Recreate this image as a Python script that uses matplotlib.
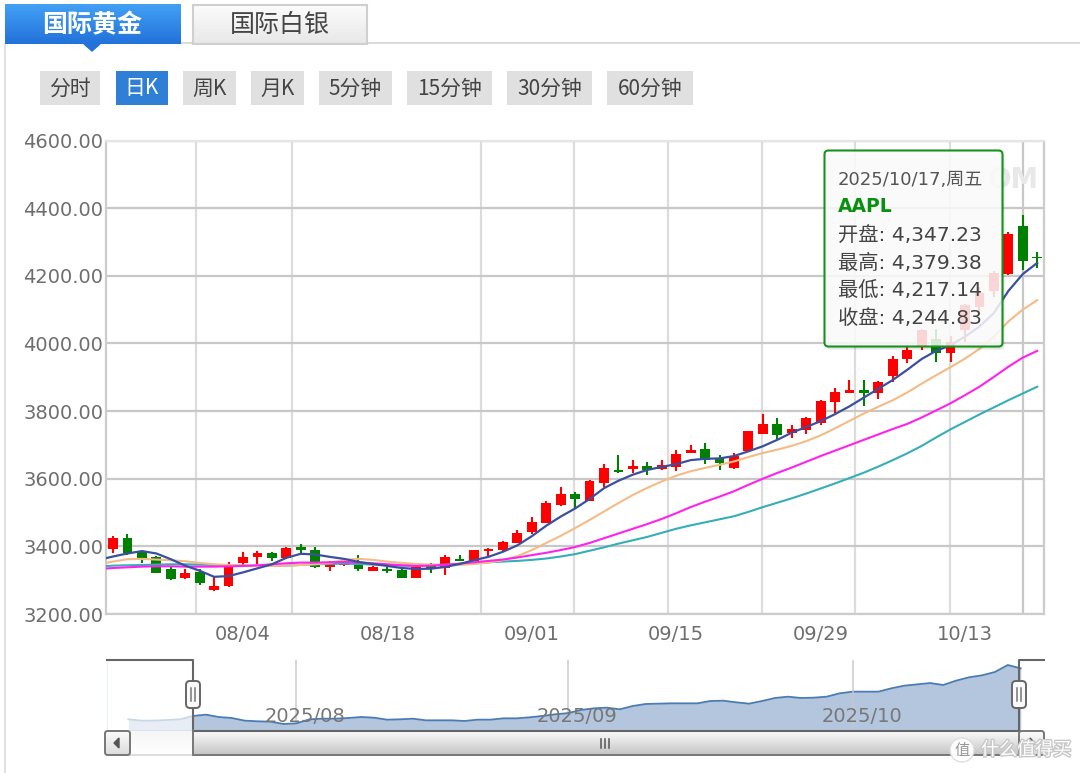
import numpy as np
import matplotlib
matplotlib.use("Agg")
import matplotlib.pyplot as plt
import matplotlib.patheffects as pe
from matplotlib.patches import FancyBboxPatch, Rectangle, Polygon, Circle

W, H = 1080, 773
CJK = ["Noto Sans CJK SC", "DejaVu Sans"]
MIX = ["DejaVu Sans", "Noto Sans CJK SC"]

# daily candles, index 0 = 07/22, 63 = 10/17
OPEN = [3391, 3424, 3384, 3368, 3332, 3306, 3325, 3271, 3284, 3350, 3370, 3379, 3365, 3399, 3389, 3340,
        3346, 3348, 3328, 3332, 3330, 3307, 3345, 3335, 3362, 3358, 3385, 3389, 3411, 3442, 3470, 3521, 3555,
        3535, 3586, 3627, 3628, 3637, 3629, 3635, 3676, 3689, 3660, 3633, 3682, 3733, 3763, 3734, 3744,
        3765, 3827, 3854, 3862, 3854, 3903, 3955, 3990, 4012, 3972, 4039, 4108, 4155, 4205, 4347.23, 4256]
HIGH = [3431, 3437, 3389, 3372, 3340, 3332, 3332, 3308, 3355, 3384, 3387, 3384, 3399, 3406, 3397, 3358,
        3365, 3373, 3342, 3340, 3340, 3342, 3350, 3373, 3373, 3390, 3394, 3417, 3448, 3488, 3534, 3576, 3562,
        3596, 3643, 3669, 3655, 3648, 3655, 3685, 3700, 3707, 3669, 3675, 3742, 3790, 3779, 3758, 3783,
        3832, 3867, 3893, 3893, 3889, 3962, 3990, 4044, 4044, 4021, 4118, 4167, 4214, 4330, 4379.38, 4271]
LOW = [3379, 3374, 3350, 3320, 3301, 3304, 3287, 3269, 3279, 3343, 3348, 3358, 3362, 3379, 3336, 3328,
       3342, 3328, 3326, 3320, 3306, 3306, 3320, 3316, 3357, 3357, 3372, 3387, 3409, 3436, 3468, 3519, 3512,
       3535, 3576, 3618, 3618, 3612, 3627, 3624, 3675, 3643, 3627, 3629, 3680, 3732, 3716, 3721, 3732,
       3758, 3793, 3852, 3816, 3836, 3886, 3941, 3982, 3946, 3946, 4005, 4088, 4138, 4202, 4217.14, 4224]
CLOSE = [3424, 3379, 3362, 3322, 3303, 3322, 3293, 3284, 3345, 3368, 3379, 3365, 3394, 3389, 3338, 3350,
         3358, 3332, 3338, 3327, 3307, 3340, 3335, 3368, 3358, 3388, 3393, 3414, 3440, 3471, 3529, 3555, 3541,
         3592, 3633, 3620, 3638, 3627, 3642, 3673, 3686, 3655, 3645, 3668, 3742, 3763, 3730, 3748, 3779,
         3830, 3857, 3862, 3852, 3887, 3955, 3982, 4039, 3972, 4005, 4113, 4148, 4207, 4325, 4244.83, 4252]

# moving averages, index -1 .. 64
MA_X = list(range(-1, 65))
MA5 = [3360, 3370, 3379, 3386, 3379, 3362, 3343, 3328, 3310, 3312, 3323, 3335, 3347, 3366, 3378, 3376, 3369,
       3363, 3354, 3348, 3342, 3336, 3333, 3334, 3339, 3348, 3359, 3369, 3384, 3403, 3430, 3461, 3488, 3512,
       3540, 3572, 3594, 3612, 3626, 3635, 3643, 3655, 3659, 3660, 3667, 3681, 3696, 3715, 3736, 3753, 3770,
       3791, 3814, 3840, 3866, 3892, 3922, 3954, 3978, 3995, 4020, 4050, 4090, 4155, 4205, 4238]
MA10 = [3347, 3355, 3362, 3363, 3361, 3359, 3356, 3351, 3347, 3345, 3343, 3342, 3342, 3343, 3345, 3347, 3351,
        3360, 3363, 3360, 3355, 3351, 3348, 3346, 3344, 3345, 3348, 3352, 3359, 3371, 3389, 3410, 3431, 3454,
        3478, 3503, 3528, 3552, 3573, 3592, 3609, 3622, 3632, 3641, 3651, 3664, 3676, 3686, 3697, 3711, 3728,
        3749, 3771, 3793, 3813, 3832, 3855, 3881, 3906, 3930, 3955, 3984, 4020, 4065, 4100, 4128]
MA20 = [3333, 3336, 3338, 3340, 3341, 3341, 3340, 3340, 3340, 3341, 3342, 3344, 3347, 3350, 3352, 3352, 3353,
        3354, 3352, 3350, 3347, 3344, 3342, 3343, 3345, 3349, 3353, 3357, 3361, 3367, 3374, 3381, 3389, 3398,
        3410, 3424, 3438, 3452, 3466, 3481, 3498, 3516, 3532, 3547, 3563, 3582, 3600, 3617, 3633, 3650, 3667,
        3683, 3699, 3715, 3731, 3747, 3762, 3781, 3802, 3823, 3847, 3872, 3901, 3931, 3958, 3978]
MA30 = [3340, 3343, 3344, 3345, 3346, 3347, 3347, 3346, 3345, 3344, 3343, 3342, 3342, 3343, 3345, 3347, 3348,
        3349, 3348, 3346, 3345, 3343, 3343, 3345, 3346, 3348, 3350, 3353, 3355, 3357, 3360, 3364, 3370, 3377,
        3387, 3397, 3408, 3418, 3428, 3440, 3452, 3462, 3471, 3480, 3489, 3502, 3516, 3529, 3542, 3556, 3571,
        3586, 3602, 3618, 3636, 3655, 3675, 3697, 3722, 3746, 3768, 3790, 3811, 3832, 3852, 3872]

Y_TICKS = [3200, 3400, 3600, 3800, 4000, 4200, 4400, 4600]
X_TICKS = [9, 19, 29, 39, 49, 59]
X_LABELS = ["08/04", "08/18", "09/01", "09/15", "09/29", "10/13"]
V_GRID = [5.75, 12.4, 19, 25.5, 31.9, 38.4, 44.95, 51.4, 57.96]
HOVER = 63

# navigator series, index -5 .. 64
NAV_X = list(range(-5, 65))
NAV = [3358, 3334, 3334, 3346, 3358, 3419, 3443, 3400, 3382, 3334, 3322, 3315, 3273, 3285, 3358, 3370, 3370, 3382,
       3400, 3388, 3352, 3358, 3370, 3340, 3340, 3340, 3328, 3352, 3352, 3376, 3376, 3394, 3419, 3449, 3471, 3528,
       3558, 3570, 3540, 3600, 3637, 3643, 3649, 3649, 3649, 3691, 3697, 3667, 3643, 3691, 3746, 3770, 3746, 3752,
       3770, 3831, 3861, 3861, 3861, 3922, 3970, 3994, 4018, 3982, 4061, 4122, 4158, 4218, 4346, 4285]
NAV_TICKS = [8, 29, 51]
NAV_LABELS = ["2025/08", "2025/09", "2025/10"]

TABS = ["国际黄金", "国际白银"]
BUTTONS = ["分时", "日K", "周K", "月K", "5分钟", "15分钟", "30分钟", "60分钟"]
BTN_X = [(40, 100), (116, 168), (183, 236), (251, 304), (319, 392), (407, 492), (507, 592), (607, 693)]
TIP = ["开盘: 4,347.23", "最高: 4,379.38", "最低: 4,217.14", "收盘: 4,244.83"]


def px_axes(fig, x0, y0, x1, y1):
    return fig.add_axes([x0 / W, 1 - y1 / H, (x1 - x0) / W, (y1 - y0) / H])


def grad(ax, x0, y0, x1, y1, c0, c1, zorder=2):
    c0 = np.array(matplotlib.colors.to_rgb(c0))
    c1 = np.array(matplotlib.colors.to_rgb(c1))
    t = np.linspace(0, 1, 32)[:, None, None]
    ax.imshow(c0 + (c1 - c0) * t, extent=(x0, x1, y1, y0), aspect="auto", zorder=zorder,
              interpolation="bilinear")


fig = plt.figure(figsize=(W / 100, H / 100), dpi=100, facecolor="white")

# %% main chart
ax = px_axes(fig, 106, 140.5, 1044, 614)
ax.set_xlim(-0.485, 64.47)
ax.set_ylim(3200, 4600)
idx = np.arange(len(OPEN))
o, h, l, c = map(np.array, (OPEN, HIGH, LOW, CLOSE))
up = c >= o
ax.vlines(idx[up], l[up], h[up], color="#ff0000", lw=1.5, zorder=4)
ax.vlines(idx[~up], l[~up], h[~up], color="#008000", lw=1.5, zorder=4)
ax.bar(idx[up], (c - o)[up], bottom=o[up], width=0.68, color="#ff0000", zorder=4)
ax.bar(idx[~up], (o - c)[~up], bottom=c[~up], width=0.68, color="#008000", zorder=4)

ax.plot(MA_X, MA30, color="#36aeb8", lw=1.5, zorder=5)
ax.plot(MA_X, MA10, color="#f4bb85", lw=1.5, zorder=5)
ax.plot(MA_X, MA20, color="#ff22ee", lw=1.5, zorder=5)
ax.plot(MA_X, MA5, color="#3b4f9f", lw=1.6, zorder=5)

ax.set_yticks(Y_TICKS, [f"{v:.2f}" for v in Y_TICKS])
ax.set_xticks(X_TICKS, X_LABELS)
ax.set_xticks(V_GRID, minor=True)
ax.tick_params(axis="both", which="both", length=0, labelsize=14, labelcolor="#6e6e6e")
ax.tick_params(axis="y", pad=2)
ax.tick_params(axis="x", pad=8)
ax.grid(axis="y", color="#c8c8c8", lw=1.6, zorder=1)
ax.grid(axis="x", which="minor", color="#dcdcdc", lw=1.6, zorder=1)
ax.axvline(HOVER, color="#c8c8c8", lw=1.6, zorder=1)
ax.set_axisbelow(True)
for s in ax.spines.values():
    s.set_color("#cccccc")
    s.set_linewidth(1.6)
ax.spines["top"].set_color("#e4e4e4")

# %% navigator
nav = px_axes(fig, 107, 660, 1044, 730)
nav.set_xlim(-6.65, 65.8)
nav.set_ylim(3164, 4437)
nav.fill_between(NAV_X, NAV, 3164, color="#b3c6de", lw=0, zorder=2)
nav.plot(NAV_X, NAV, color="#4a7bb3", lw=1.3, zorder=3)
nav.axvspan(-6.65, 0, color="white", alpha=0.7, lw=0, zorder=4)
for t, lab in zip(NAV_TICKS, NAV_LABELS):
    nav.axvline(t, color="#c4c8d0", lw=1.3, alpha=0.8, zorder=1 if t < 51 else 5)
    nav.annotate(lab, (t, 3164), xytext=(9, 14), textcoords="offset pixels", ha="center", va="center",
                 fontsize=14, color="#777777", zorder=6)
nav.set_xticks([])
nav.set_yticks([])
for s in nav.spines.values():
    s.set_visible(False)
nav.spines["left"].set_visible(True)
nav.spines["left"].set_color("#c4d4e8")

# %% page furniture in pixel coordinates
ui = fig.add_axes([0, 0, 1, 1], zorder=10)
ui.patch.set_alpha(0)
ui.axis("off")

ui.plot([180, 1080], [42.5, 42.5], color="#d4d4d4", lw=1.2, zorder=1)
ui.plot([5, 5], [44, 773], color="#dcdcdc", lw=1.2, zorder=1)

# tabs
grad(ui, 5, 4, 181, 44, "#42a0f4", "#2272da")
ui.add_patch(Polygon([[84, 44], [100, 44], [92, 51]], color="#2272da", zorder=2))
ui.text(92, 25, TABS[0], color="white", fontsize=18, fontweight="bold", family=CJK, ha="center", va="center", zorder=3)
grad(ui, 193, 5, 367, 44, "#fbfbfb", "#e8e8e8")
ui.add_patch(Rectangle((193, 5), 174, 39, fc="none", ec="#cfcfcf", lw=1.5, zorder=3))
ui.text(280, 25, TABS[1], color="#444444", fontsize=18, family=CJK, ha="center", va="center", zorder=3)

# period buttons
for lab, (x0, x1) in zip(BUTTONS, BTN_X):
    active = lab == "日K"
    ui.add_patch(Rectangle((x0, 71), x1 - x0, 34, color="#2f7fd6" if active else "#e0e0e0", lw=0, zorder=2))
    ui.text((x0 + x1) / 2, 88.5, lab, color="white" if active else "#444444", fontsize=15, family=CJK,
            ha="center", va="center", zorder=3)

# watermark behind tooltip, tooltip box
ui.text(1013, 180, "OM", color="#e8e8e8", fontsize=20, fontweight="bold", ha="center", va="center", zorder=2)
ui.add_patch(FancyBboxPatch((826.5, 152.5), 178, 197, boxstyle="round,pad=0,rounding_size=4", fc="black", alpha=0.10, lw=0, zorder=3))
ui.add_patch(FancyBboxPatch((824.5, 150.5), 178, 196, boxstyle="round,pad=0,rounding_size=4", fc="white", alpha=0.84,
                            ec="none", zorder=3))
ui.add_patch(FancyBboxPatch((824.5, 150.5), 178, 196, boxstyle="round,pad=0,rounding_size=4", fc="none",
                            ec="#17921f", lw=1.5, zorder=4))
ui.text(838, 180, "2025/10/17,周五", color="#555555", fontsize=13, family=MIX, va="center", zorder=5)
ui.text(838, 207, "AAPL", color="#0a9010", fontsize=13.5, fontweight="bold", va="center", zorder=5)
for i, line in enumerate(TIP):
    ui.text(838, 235 + i * 28, line, color="#444444", fontsize=14.6, family=MIX, va="center", zorder=5)

# scrollbar
grad(ui, 130, 731, 193, 755, "#f6f6f6", "#ffffff")
grad(ui, 193, 731, 1019, 755, "#fbfbfb", "#c4c4c4")
ui.plot([193, 1019], [755, 755], color="#777777", lw=1.4, zorder=3)
ui.plot([130, 193], [755, 755], color="#dddddd", lw=1.4, zorder=3)
ui.plot([107, 193, 193, 1019, 1019, 1044], [660, 660, 730.5, 730.5, 660, 660], color="#666666", lw=1.5, zorder=3)
ui.plot([193, 193], [730, 755], color="#777777", lw=1.4, zorder=3)
grad(ui, 105, 731, 130, 755, "#fbfbfb", "#dcdcdc")
ui.add_patch(FancyBboxPatch((105, 731), 25, 24, boxstyle="round,pad=0,rounding_size=2.5", fc="none", ec="#777777", lw=1.4, zorder=3))
ui.add_patch(Polygon([[119, 738], [119, 748], [114, 743]], color="#555555", zorder=4))
grad(ui, 1019, 731, 1044, 755, "#fbfbfb", "#dcdcdc")
ui.add_patch(FancyBboxPatch((1019, 731), 25, 24, boxstyle="round,pad=0,rounding_size=2.5", fc="none", ec="#777777", lw=1.4, zorder=3))
ui.add_patch(Polygon([[1030, 738], [1030, 748], [1035, 743]], color="#555555", zorder=4))
for gx in (601, 605, 609):
    ui.plot([gx, gx], [739, 748], color="#555555", lw=1.1, zorder=4)

# navigator handles
for hx in (193, 1019):
    ui.add_patch(FancyBboxPatch((hx - 7, 681), 14, 27, boxstyle="round,pad=0,rounding_size=4", fc="#fafafa", ec="#666666", lw=1.4, zorder=5))
    for gx in (hx - 2, hx + 2):
        ui.plot([gx, gx], [688, 701], color="#777777", lw=1.1, zorder=6)

# site stamp, white with a soft grey edge
halo = [pe.withStroke(linewidth=2, foreground="#c8c8c8")]
ui.add_patch(Circle((962, 750), 12, fc="white", ec="#dddddd", lw=1, alpha=0.95, zorder=7))
ui.text(962, 750, "值", color="#999999", fontsize=11, family=CJK, ha="center", va="center", zorder=8)
ui.text(1026, 750, "什么值得买", color="white", fontsize=13, family=CJK, ha="center", va="center", zorder=8, path_effects=halo)

ui.set_xlim(0, W)
ui.set_ylim(H, 0)

fig.savefig("out.png", dpi=100)
